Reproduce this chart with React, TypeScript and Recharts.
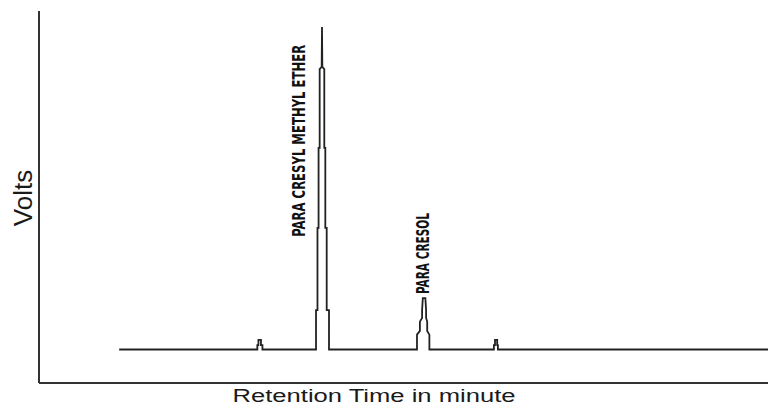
import React from 'react';
import { LineChart, Line, XAxis, YAxis, ReferenceDot, Label } from 'recharts';

// retention time (min) and detector signal (V)
const retentionTime = [
  2.2,
  5.99, 5.99, 6.02, 6.02, 6.09, 6.09, 6.13, 6.13,
  7.6, 7.6, 7.64, 7.64, 7.67, 7.67, 7.7, 7.7, 7.755, 7.764, 7.773, 7.827, 7.827, 7.855, 7.855, 7.893, 7.893, 7.956, 7.956,
  10.37, 10.37, 10.45, 10.45, 10.51, 10.51, 10.53, 10.6, 10.62, 10.62, 10.65, 10.65, 10.71, 10.71,
  12.48, 12.48, 12.51, 12.51, 12.57, 12.57, 12.59, 12.59,
  20
];
const volts = [
  0.09,
  0.09, 0.102, 0.102, 0.116, 0.116, 0.102, 0.102, 0.09,
  0.09, 0.196, 0.196, 0.417, 0.417, 0.632, 0.632, 0.844, 0.85, 0.957, 0.85, 0.844, 0.632, 0.632, 0.417, 0.417, 0.196, 0.196, 0.09,
  0.09, 0.13, 0.14, 0.165, 0.175, 0.196, 0.228, 0.228, 0.196, 0.175, 0.165, 0.14, 0.13, 0.09,
  0.09, 0.102, 0.102, 0.116, 0.116, 0.102, 0.102, 0.09,
  0.09
];

const peakNames = ['PARA CRESYL METHYL ETHER', 'PARA CRESOL'];
const peakLabelTime = [7.13, 10.535];
const peakLabelVolts = [0.651, 0.348];

const xTitle = 'Retention Time in minute';
const yTitle = 'Volts';

const data = retentionTime.map((t, i) => ({ time: t, volts: volts[i] }));

const labelLengths = [192, 81];

const peakLabel = (name: string, len: number) => (props: any) => {
  const vb = props.viewBox || {};
  const cx = (vb.x || 0) + (vb.width || 0) / 2;
  const cy = (vb.y || 0) + (vb.height || 0) / 2;
  return (
    <text
      x={cx}
      y={cy}
      transform={`rotate(-90 ${cx} ${cy})`}
      textAnchor="middle"
      dominantBaseline="central"
      fontFamily="'Liberation Sans Narrow', 'DejaVu Sans Condensed', sans-serif"
      fontWeight="bold"
      fontSize={17}
      fill="#111"
      textLength={len}
      lengthAdjust="spacingAndGlyphs"
    >
      {name}
    </text>
  );
};

const App: React.FC = () => (
  <div style={{ position: 'absolute', left: 0, top: 0, width: 768, height: 405, background: '#fff' }}>
    <LineChart width={768} height={405} data={data} margin={{ top: 11, right: 0, bottom: 21, left: 38 }}>
      <XAxis
        type="number"
        dataKey="time"
        domain={[0, 20]}
        tick={false}
        tickLine={false}
        height={1}
        axisLine={{ stroke: '#333', strokeWidth: 2 }}
      >
        <Label
          content={() => (
            <text
              x={374}
              y={402}
              textAnchor="middle"
              fontFamily="'Liberation Sans', Arial, sans-serif"
              fontSize={17.5}
              fill="#1a1a1a"
              textLength={283}
              lengthAdjust="spacingAndGlyphs"
            >
              {xTitle}
            </text>
          )}
        />
      </XAxis>
      <YAxis
        type="number"
        domain={[0, 1]}
        tick={false}
        tickLine={false}
        width={1}
        axisLine={{ stroke: '#333', strokeWidth: 2 }}
      >
        <Label
          content={() => (
            <text
              x={23}
              y={198}
              transform="rotate(-90 23 198)"
              textAnchor="middle"
              dominantBaseline="central"
              fontFamily="'Liberation Sans', Arial, sans-serif"
              fontSize={26}
              fill="#1a1a1a"
            >
              {yTitle}
            </text>
          )}
        />
      </YAxis>
      <Line
        type="linear"
        dataKey="volts"
        stroke="#222"
        strokeWidth={1.8}
        dot={false}
        activeDot={false}
        isAnimationActive={false}
      />
      {peakNames.map((name, i) => (
        <ReferenceDot
          key={name}
          x={peakLabelTime[i]}
          y={peakLabelVolts[i]}
          r={0}
          fill="none"
          stroke="none"
          label={{ content: peakLabel(name, labelLengths[i]) }}
        />
      ))}
    </LineChart>
  </div>
);

export default App;
